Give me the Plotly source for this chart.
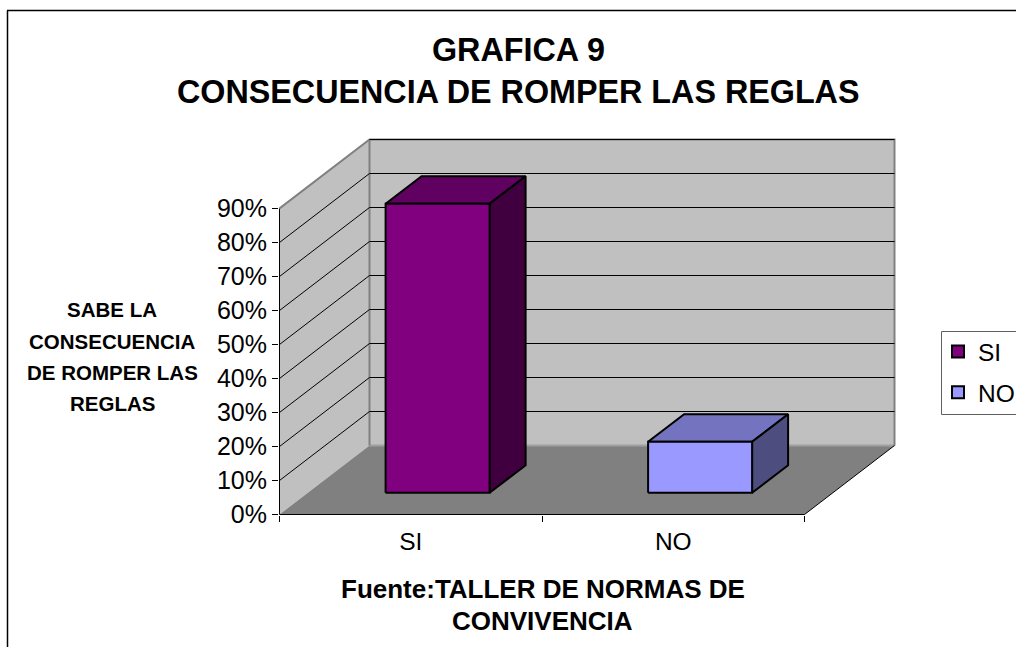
import plotly.graph_objects as go

categories = ["SI", "NO"]
values = [85, 15]
front_colors = ["#800080", "#9999FF"]
top_colors = ["#600060", "#7373BF"]
side_colors = ["#400040", "#4D4D80"]
y_ticks = [0, 10, 20, 30, 40, 50, 60, 70, 80, 90]
title_lines = ["GRAFICA 9", "CONSECUENCIA DE ROMPER LAS REGLAS"]
y_title_lines = ["SABE LA", "CONSECUENCIA", "DE ROMPER LAS", "REGLAS"]
x_title_lines = ["Fuente:TALLER DE NORMAS DE", "CONVIVENCIA"]

W, H = 1016, 647
L, R, T, B = 279, 896, 138, 515
FONT = "Liberation Sans"
n = len(categories)
cat_px = 262.5
y_px = 3.4
DX = 90 / cat_px          # depth of the floor in x units
DY = 69 / y_px            # depth of the floor in y units
x_min = -0.5 / cat_px
y_min = -0.5 / y_px
x_max = (R - L) / cat_px + x_min
y_max = (B - T) / y_px + y_min
top_val = y_ticks[-1]


def proj(x, y, d):
    return x + d * DX, y + d * DY


def poly(pts, fill, line=None, width=0):
    xs = [p[0] for p in pts] + [pts[0][0]]
    ys = [p[1] for p in pts] + [pts[0][1]]
    return go.Scatter(x=xs, y=ys, mode="lines", fill="toself", fillcolor=fill,
                      line=dict(color=line or fill, width=width), showlegend=False,
                      hoverinfo="skip", cliponaxis=False)


def path(pts, color="black", width=1):
    return go.Scatter(x=[p[0] for p in pts], y=[p[1] for p in pts], mode="lines",
                      line=dict(color=color, width=width), showlegend=False,
                      hoverinfo="skip", cliponaxis=False)


fig = go.Figure()
# walls and floor
fig.add_trace(poly([proj(0, 0, 0), proj(0, top_val, 0), proj(0, top_val, 1), proj(0, 0, 1)], "#C0C0C0"))
fig.add_trace(poly([proj(0, 0, 1), proj(0, top_val, 1), proj(n, top_val, 1), proj(n, 0, 1)], "#C0C0C0"))
fig.add_trace(poly([proj(0, 0, 0), proj(n, 0, 0), proj(n, 0, 1), proj(0, 0, 1)], "#808080"))
# wall edges
fig.add_trace(path([proj(0, 0, 1), proj(n, 0, 1)], "#A0A0A0", 2))
fig.add_trace(path([proj(0, 0, 1), proj(0, top_val, 1)], "#808080", 2))
fig.add_trace(path([proj(0, top_val, 0), proj(0, top_val, 1), proj(n, top_val, 1), proj(n, 0, 1)], "#808080", 2))
# gridlines
for v in y_ticks[1:-1]:
    fig.add_trace(path([proj(0, v, 0), proj(0, v, 1), proj(n, v, 1)]))
fig.add_trace(path([proj(0, top_val, 1), proj(n, top_val, 1)]))
# axes
fig.add_trace(path([proj(0, top_val, 0), proj(0, 0, 0), proj(n, 0, 0), proj(n, 0, 1)], "black", 1))
# bars
bar_w = 104 / cat_px
bar_shift = -1.5 / cat_px
d0, d1 = 0.315, 0.715
for i, (val, f, t, s) in enumerate(zip(values, front_colors, top_colors, side_colors)):
    x0 = i + 0.5 - bar_w / 2 + bar_shift
    x1 = x0 + bar_w
    kw = dict(line="black", width=2)
    fig.add_trace(poly([proj(x0, val, d0), proj(x1, val, d0), proj(x1, val, d1), proj(x0, val, d1)], t, **kw))
    fig.add_trace(poly([proj(x1, 0, d0), proj(x1, val, d0), proj(x1, val, d1), proj(x1, 0, d1)], s, **kw))
    fig.add_trace(poly([proj(x0, 0, d0), proj(x1, 0, d0), proj(x1, val, d0), proj(x0, val, d0)], f, **kw))
# legend entries
for name, f in zip(categories, front_colors):
    fig.add_trace(go.Scatter(x=[None], y=[None], mode="markers", name=name, legendgroup=name,
                             marker=dict(symbol="square", size=13, color=f,
                                         line=dict(color="black", width=1.5))))


def pxX(v):
    return (v - L) / (R - L)


def pxY(v):
    return (B - v) / (B - T)


def ann(text, xp, yp, size, bold=True):
    return dict(text=f"<b>{text}</b>" if bold else text, xref="paper", yref="paper",
                x=pxX(xp), y=pxY(yp), xanchor="center", yanchor="middle",
                showarrow=False, font=dict(family=FONT, size=size, color="black"))


anns = []
for line, yp in zip(title_lines, [50, 92]):
    anns.append(ann(line, 518, yp, 32.3))
for line, yp in zip(y_title_lines, [309, 341, 372, 403]):
    anns.append(ann(line, 112, yp, 20.5))
for line, yp in zip(x_title_lines, [589, 621]):
    anns.append(ann(line, 542.5, yp, 26))

fig.update_layout(
    width=W, height=H,
    margin=dict(l=L, r=W - R, t=T, b=H - B, autoexpand=False),
    paper_bgcolor="white", plot_bgcolor="white",
    font=dict(family=FONT, size=24, color="black"),
    xaxis=dict(range=[x_min, x_max], tickmode="array", tickvals=[i + 0.5 for i in range(n)],
               ticktext=categories, showgrid=False, zeroline=False, showline=False, ticks="",
               ticklabelstandoff=9, tickfont=dict(size=24.5), fixedrange=True,
               minor=dict(tickmode="array", tickvals=list(range(n + 1)), ticks="outside",
                          ticklen=6, tickcolor="black", tickwidth=1, showgrid=False)),
    yaxis=dict(range=[y_min, y_max], tickmode="array", tickvals=y_ticks,
               ticktext=[f"{v}%" for v in y_ticks], showgrid=False, zeroline=False, showline=False,
               ticks="outside", ticklen=6, tickcolor="black", tickwidth=1,
               tickfont=dict(size=25), fixedrange=True),
    legend=dict(x=pxX(938), y=pxY(329), xanchor="left", yanchor="top", bgcolor="rgba(0,0,0,0)",
                borderwidth=0, font=dict(family=FONT, size=24.5),
                tracegroupgap=6, itemsizing="constant"),
    annotations=anns,
    shapes=[dict(type="line", xref="paper", yref="paper", x0=pxX(7.5), x1=pxX(7.5), y0=pxY(647), y1=pxY(10.5),
                 line=dict(color="black", width=1.5)),
            dict(type="line", xref="paper", yref="paper", x0=pxX(7), x1=pxX(1016), y0=pxY(10.5), y1=pxY(10.5),
                 line=dict(color="black", width=1.5)),
            dict(type="rect", xref="paper", yref="paper", x0=pxX(941.5), x1=pxX(1030), y0=pxY(414.5), y1=pxY(331.5),
                 line=dict(color="#606060", width=1))],
)
fig.write_html("out.html", config={"displayModeBar": False},
               post_script="document.body.style.margin='0';document.body.style.overflow='hidden';")
